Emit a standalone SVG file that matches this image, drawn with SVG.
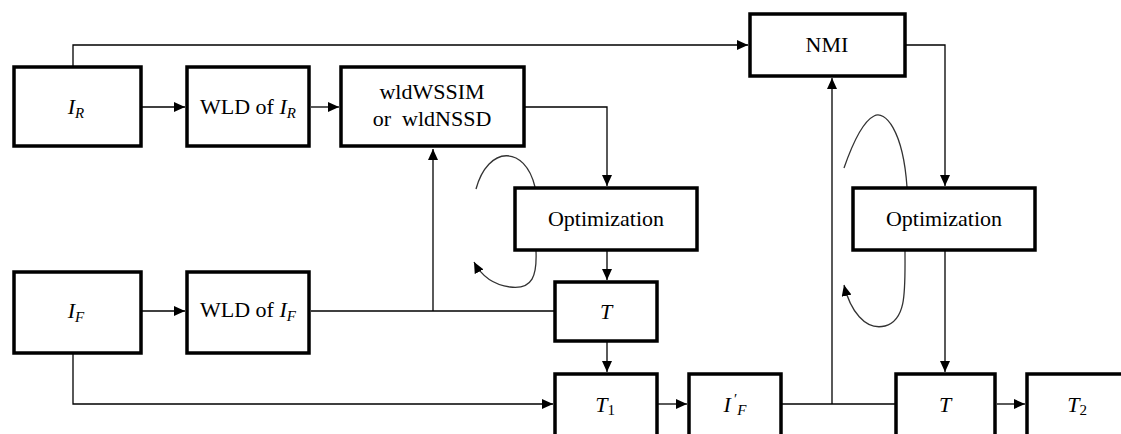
<svg xmlns="http://www.w3.org/2000/svg" width="1121" height="434" viewBox="0 0 1121 434">
<style>
.box{fill:#fff;stroke:#000;stroke-width:3.5}
.ln{fill:none;stroke:#000;stroke-width:1.3}
.cv{fill:none;stroke:#333;stroke-width:1.3}
text{font-family:"Liberation Serif","Times New Roman",serif;font-size:22px;fill:#000;text-anchor:middle}
.it{font-style:italic}
.sub{font-size:15px}
</style>
<defs>
<marker id="ah" markerUnits="userSpaceOnUse" markerWidth="12" markerHeight="10" refX="11" refY="5" orient="auto">
<path d="M0,0 L11,5 L0,10 Z" fill="#000"/>
</marker>
</defs>
<rect width="1121" height="434" fill="#fff"/>
<g id="connectors">
<path class="ln" d="M73 66 V45 H748" marker-end="url(#ah)"/>
<path class="ln" d="M142 107 H185" marker-end="url(#ah)"/>
<path class="ln" d="M311 107 H339" marker-end="url(#ah)"/>
<path class="ln" d="M525 107 H607 V186" marker-end="url(#ah)"/>
<path class="ln" d="M906 45 H945 V186" marker-end="url(#ah)"/>
<path class="ln" d="M607 251 V280" marker-end="url(#ah)"/>
<path class="ln" d="M607 342 V372" marker-end="url(#ah)"/>
<path class="ln" d="M142 311 H185" marker-end="url(#ah)"/>
<path class="ln" d="M311 311 H554"/>
<path class="ln" d="M433 311 V149" marker-end="url(#ah)"/>
<path class="ln" d="M73 354 V404 H553" marker-end="url(#ah)"/>
<path class="ln" d="M658 404 H687" marker-end="url(#ah)"/>
<path class="ln" d="M782 404 H895"/>
<path class="ln" d="M832 404 V78" marker-end="url(#ah)"/>
<path class="ln" d="M945 251 V372" marker-end="url(#ah)"/>
<path class="ln" d="M997 404 H1025" marker-end="url(#ah)"/>
<path class="cv" d="M535 187 C525 145 488 145 476 189"/>
<path class="cv" d="M536 251 C537 275 533 290 510 287 C495 285 482 277 474 262" marker-end="url(#ah)"/>
<path class="cv" d="M907 187 C903 130 885 110 874 116 C862 122 852 145 844 168"/>
<path class="cv" d="M905 251 C905 290 907 320 885 326 C865 331 850 310 844 285" marker-end="url(#ah)"/>
</g>
<g id="IR"><rect class="box" x="14" y="67" width="127" height="79"/><text x="76" y="114"><tspan class="it">I</tspan><tspan class="sub it" dy="4">R</tspan></text></g>
<g id="WLDR"><rect class="box" x="187" y="67" width="122" height="79"/><text x="248" y="114">WLD of <tspan class="it">I</tspan><tspan class="sub it" dy="4">R</tspan></text></g>
<g id="WLDM"><rect class="box" x="341" y="67" width="183" height="79"/><text x="432" y="99">wldWSSIM</text><text x="432" y="126" style="white-space:pre">or  wldNSSD</text></g>
<g id="NMI"><rect class="box" x="750" y="14" width="155" height="62"/><text x="827" y="52">NMI</text></g>
<g id="OPT1"><rect class="box" x="515" y="188" width="182" height="62"/><text x="606" y="226">Optimization</text></g>
<g id="OPT2"><rect class="box" x="853" y="188" width="182" height="62"/><text x="944" y="226">Optimization</text></g>
<g id="IF"><rect class="box" x="14" y="272" width="127" height="81"/><text x="76" y="318"><tspan class="it">I</tspan><tspan class="sub it" dy="4">F</tspan></text></g>
<g id="WLDF"><rect class="box" x="187" y="272" width="122" height="81"/><text x="248" y="317">WLD of <tspan class="it">I</tspan><tspan class="sub it" dy="4">F</tspan></text></g>
<g id="T"><rect class="box" x="555" y="282" width="102" height="59"/><text x="606" y="319" class="it">T</text></g>
<g id="T1"><rect class="box" x="555" y="374" width="102" height="70"/><text x="605" y="412"><tspan class="it">T</tspan><tspan class="sub" dy="3">1</tspan></text></g>
<g id="IFp"><rect class="box" x="689" y="374" width="92" height="70"/><text x="735" y="412"><tspan class="it">I</tspan><tspan class="sub" dx="3" dy="-8">′</tspan><tspan class="sub it" dy="11">F</tspan></text></g>
<g id="Tb"><rect class="box" x="896" y="374" width="99" height="70"/><text x="945" y="412" class="it">T</text></g>
<g id="T2"><rect class="box" x="1027" y="374" width="110" height="70"/><text x="1077" y="412"><tspan class="it">T</tspan><tspan class="sub" dy="3">2</tspan></text></g>
</svg>
